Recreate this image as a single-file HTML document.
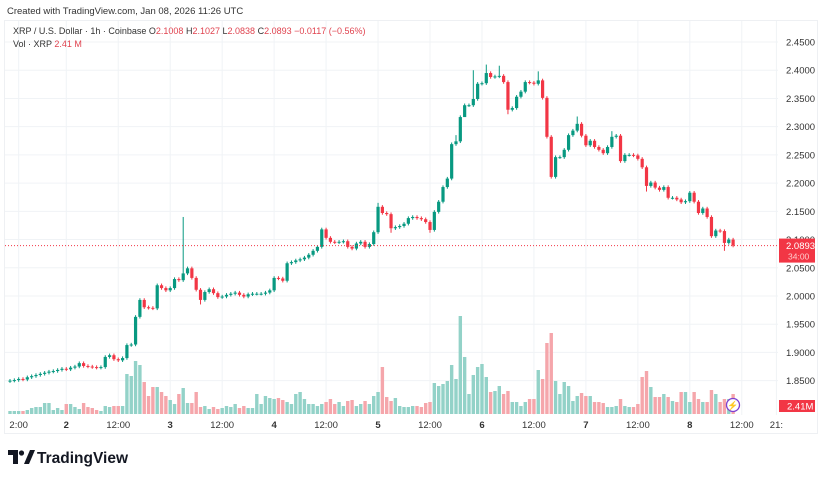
<!DOCTYPE html>
<html><head><meta charset="utf-8"><style>
body{margin:0;background:#fff;width:825px;height:478px;overflow:hidden;font-family:"Liberation Sans",sans-serif}
svg text{font-family:"Liberation Sans",sans-serif}
</style></head><body>
<svg id="chart" width="825" height="478" xmlns="http://www.w3.org/2000/svg">
<text x="7" y="14" font-size="9.5" fill="#333">Created with TradingView.com, Jan 08, 2026 11:26 UTC</text>
<rect x="4.5" y="20.5" width="813" height="413" fill="none" stroke="#eef0f3"/>
<g id="grid"></g>
<g id="vol"></g>
<g id="candles"></g>
<g id="axes"></g>
<text x="13" y="34" font-size="9" fill="#333">XRP / U.S. Dollar · 1h · Coinbase  <tspan fill="#333">O</tspan><tspan fill="#e0434f">2.1008</tspan>  <tspan fill="#333">H</tspan><tspan fill="#e0434f">2.1027</tspan>  <tspan fill="#333">L</tspan><tspan fill="#e0434f">2.0838</tspan>  <tspan fill="#333">C</tspan><tspan fill="#e0434f">2.0893  −0.0117 (−0.56%)</tspan></text>
<text x="13" y="47" font-size="9" fill="#333">Vol · XRP  <tspan fill="#e0434f">2.41 M</tspan></text>
<g>
<path d="M8 450h10v14h-5v-9H8z" fill="#131722"/><circle cx="21.5" cy="453" r="2.6" fill="#131722"/><path d="M24 464l6-14h5l-6 14z" fill="#131722"/>
<text x="37" y="463" font-size="15.5" font-weight="bold" fill="#131722">TradingView</text></g>
<g><circle cx="733" cy="405" r="6.5" fill="#fff" stroke="#7e3fd0" stroke-width="1.3"/><text x="733" y="408.5" font-size="9" text-anchor="middle" fill="#7e3fd0">⚡</text></g>
</svg>
<script>
const closes=[1.850,1.851,1.853,1.852,1.856,1.858,1.860,1.862,1.864,1.866,1.867,1.869,1.871,1.870,1.873,1.875,1.881,1.876,1.875,1.874,1.873,1.874,1.892,1.895,1.888,1.886,1.890,1.913,1.914,1.963,1.993,1.980,1.979,1.978,2.019,2.014,2.010,2.014,2.030,2.028,2.040,2.049,2.032,2.011,1.993,2.007,2.012,2.005,1.998,1.999,2.002,2.004,2.006,2.002,1.999,2.003,2.004,2.004,2.004,2.006,2.010,2.032,2.031,2.027,2.058,2.060,2.063,2.065,2.068,2.073,2.080,2.087,2.118,2.103,2.096,2.095,2.096,2.097,2.087,2.084,2.093,2.096,2.087,2.092,2.113,2.158,2.147,2.145,2.120,2.122,2.124,2.128,2.138,2.140,2.138,2.136,2.131,2.117,2.149,2.167,2.193,2.208,2.269,2.274,2.317,2.338,2.338,2.349,2.376,2.377,2.395,2.388,2.389,2.390,2.379,2.330,2.333,2.353,2.362,2.379,2.378,2.376,2.382,2.351,2.282,2.211,2.246,2.246,2.259,2.285,2.293,2.305,2.284,2.267,2.275,2.264,2.259,2.253,2.264,2.282,2.284,2.239,2.250,2.250,2.249,2.243,2.228,2.195,2.201,2.192,2.188,2.193,2.174,2.174,2.171,2.166,2.168,2.183,2.167,2.147,2.155,2.140,2.106,2.116,2.115,2.094,2.100,2.0893];
const volumes=[3,3,3,3,4,6,7,7,11,11,4,6,4,10,10,7,5,11,7,6,4,3,8,7,8,8,8,40,38,53,49,32,18,27,27,22,18,14,10,20,26,11,11,22,7,8,5,7,5,6,8,7,10,6,8,6,6,20,10,18,16,15,16,14,12,10,20,22,15,10,10,8,10,12,15,10,12,8,13,14,8,10,13,10,18,22,47,17,13,16,8,7,7,8,8,7,11,12,31,28,30,33,49,35,98,57,20,39,47,50,37,22,23,28,20,23,12,12,8,12,15,15,44,35,71,81,33,20,32,28,13,18,21,18,18,12,12,11,7,7,8,15,8,7,7,10,37,43,27,17,17,20,17,13,12,22,22,12,22,15,12,12,24,20,12,15,15,20];
const wickHigh={40:2.140,85:2.165,103:2.285,107:2.400,110:2.410,113:2.408,122:2.398,131:2.318,139:2.292};
const wickLow={44:1.985,88:2.112,97:2.112,105:2.322,115:2.322,125:2.208,147:2.185,165:2.080};
const priceTicks=[2.45,2.40,2.35,2.30,2.25,2.20,2.15,2.10,2.05,2.00,1.95,1.90,1.85];
const timeLabels=["2:00","2","12:00","3","12:00","4","12:00","5","12:00","6","12:00","7","12:00","8","12:00","21:"];
const timeIdx=[2,13,25,37,49,61,73,85,97,109,121,133,145,157,169,177];
const yP=p=>42+(2.45-p)/0.05*28.22;
const xI=i=>10+i*4.33;
const yV=v=>414-v;
const NS="http://www.w3.org/2000/svg";
function mk(tag,a,parent){const e=document.createElementNS(NS,tag);for(const k in a)e.setAttribute(k,a[k]);parent.appendChild(e);return e;}
const grid=document.getElementById('grid'),axes=document.getElementById('axes'),vg=document.getElementById('vol'),cg=document.getElementById('candles');
priceTicks.forEach(p=>{const y=yP(p);
 const l=mk('line',{x1:5,x2:778,y1:y,y2:y,stroke:'#f0f3f6'},grid);
 
 
 const t=mk('text',{x:786,y:y+3.5,'font-size':9.5,fill:'#333'},axes);t.textContent=p.toFixed(4);
 
 
});
timeLabels.forEach((s,k)=>{const x=xI(timeIdx[k]);
 const l=mk('line',{x1:x,x2:x,y1:21,y2:415,stroke:'#f0f3f6'},grid);
 
 
 const t=mk('text',{x:x,y:428,'font-size':9.5,fill:'#333','text-anchor':'middle','font-weight':(s.length<3&&s!=='21:')?'bold':'normal'},axes);t.textContent=s;
 
 
});
closes.forEach((c,i)=>{
 const o=i?closes[i-1]:c-0.001;const up=c>=o;
 const col=up?'#089981':'#f23645';
 const hi=wickHigh[i]!==undefined?wickHigh[i]:Math.max(o,c)+0.003;
 const lo=wickLow[i]!==undefined?wickLow[i]:Math.min(o,c)-0.003;
 const x=xI(i);
 const w=mk('line',{x1:x,x2:x,y1:yP(hi),y2:yP(lo),stroke:col,'stroke-width':1},cg);
 
 
 const yt=yP(Math.max(o,c)),yb=yP(Math.min(o,c));
 const b=mk('rect',{x:x-1.6,y:yt,width:3.2,height:Math.max(1,yb-yt),fill:col},cg);
 
 
 const v=volumes[i];
 const vb=mk('rect',{x:x-1.7,y:yV(v),width:3.4,height:v,fill:up?'#93d2c8':'#f5a6ab'},vg);
 
 
});
const last=closes[closes.length-1],ly=yP(last);
const dl=mk('line',{x1:5,x2:778,y1:ly,y2:ly,stroke:'#f23645','stroke-dasharray':'1 2','stroke-width':1},axes);


const pb=mk('rect',{x:779,y:ly-7,width:36,height:24,fill:'#f23645'},axes);


const pt=mk('text',{x:786,y:ly+3.5,'font-size':9.5,fill:'#fff'},axes);pt.textContent=last.toFixed(4);


const ct=mk('text',{x:788,y:ly+14,'font-size':8.5,fill:'#fcc'},axes);ct.textContent='34:00';


const vbx=mk('rect',{x:779,y:400,width:36,height:12,fill:'#f23645'},axes);


const vt=mk('text',{x:787,y:409.5,'font-size':9.5,fill:'#fff'},axes);vt.textContent='2.41M';


</script>
</body></html>
